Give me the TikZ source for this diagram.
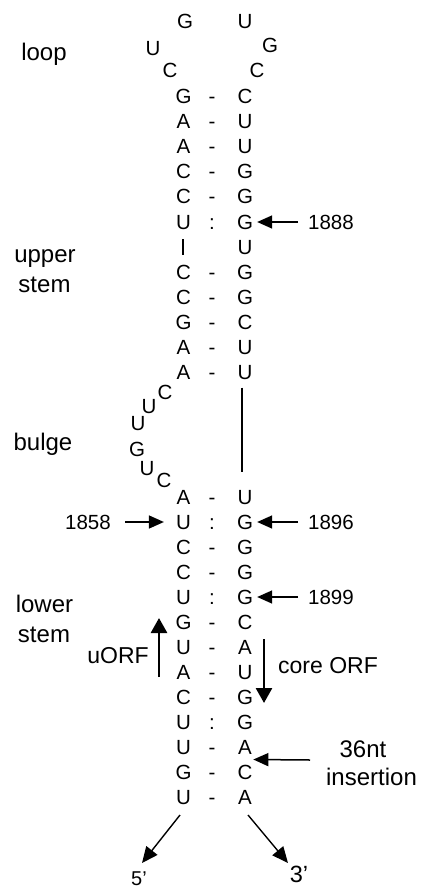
\documentclass[tikz,border=0pt]{standalone}
\usepackage{fontspec}
\setmainfont{Liberation Sans}
\usetikzlibrary{arrows.meta,calc}
\begin{document}
\begin{tikzpicture}[x=1pt,y=-1pt,
  nt/.style={inner sep=0pt, font=\fontsize{20.5}{22}\selectfont, text height=14.7pt, text depth=0pt},
  num/.style={inner sep=0pt, font=\fontsize{20.5}{22}\selectfont, text height=14.7pt, text depth=0pt},
  lab/.style={inner sep=0pt, anchor=base, font=\fontsize{24}{26}\selectfont},
  orf/.style={inner sep=0pt, anchor=base, font=\fontsize{23}{25}\selectfont},
  ptr/.style={-{Triangle[length=15pt,width=13pt]}, line width=1.5pt},
  orfarr/.style={-{Triangle[length=15pt,width=16pt]}, line width=2.7pt},
  endarr/.style={-{Triangle[length=16pt,width=14pt]}, line width=1.4pt},
  bar/.style={line width=2.8pt}]
\useasboundingbox (0,0) rectangle (420,893);
% loop
\node[nt] (lpG1) at (185,21.5) {G};
\node[nt] (lpU2) at (245,21.5) {U};
\node[nt] (lpU1) at (153,48.5) {U};
\node[nt] (lpG2) at (270,45.5) {G};
\node[nt] (lpC1) at (170,70) {C};
\node[nt] (lpC2) at (257,70) {C};
% stem pairs
\foreach \n/\y/\a/\s/\b in {1/96/G/-/C,2/121/A/-/U,3/146/A/-/U,4/171/C/-/G,5/196/C/-/G,6/222/U/:/G,
  8/272/C/-/G,9/297/C/-/G,10/322/G/-/C,11/347/A/-/U,12/372/A/-/U,
  13/497/A/-/U,14/522/U/:/G,15/547/C/-/G,16/572/C/-/G,17/597/U/:/G,18/622/G/-/C,19/647/U/-/A,
  20/672/A/-/U,21/697/C/-/G,22/722/U/:/G,23/747/U/-/A,24/772/G/-/C,25/797/U/-/A}{
  \node[nt] (l\n) at (183.5,\y) {\a};
  \node[nt] (m\n) at (212,\y) {\s};
  \node[nt] (r\n) at (245,\y) {\b};
}
\node[nt] (r7) at (245,247) {U};
\coordinate (b7t) at (183,239);
\coordinate (b7b) at (183,255);
\draw[line width=2.2pt] (b7t) -- (b7b);
% bulge
\node[nt] (bC1) at (165,392) {C};
\node[nt] (bU1) at (149,406) {U};
\node[nt] (bU2) at (138,423) {U};
\node[nt] (bG) at (137,449) {G};
\node[nt] (bU3) at (147,468) {U};
\node[nt] (bC2) at (164,480) {C};
\draw[bar] ($(r12.south)+(-3,8)$) -- ($(r13.north)+(-3,-17)$);
% left labels
\node[lab] (tloop) at (44,61) {loop};
\node[lab] (tupper) at (45,262) {upper};
\node[lab] (tstem1) at (44.5,292) {stem};
\node[lab] (tbulge) at (43,450) {bulge};
\node[lab] (tlower) at (44.5,612) {lower};
\node[lab] (tstem2) at (44,642) {stem};
% position numbers
\node[num] (n1888) at (331,222) {1888};
\node[num] (n1896) at (331,522) {1896};
\node[num] (n1899) at (331,597) {1899};
\node[num] (n1858) at (88,522) {1858};
\draw[ptr] ($(n1888.west)+(-10,0)$) -- ($(r6.east)+(4,0)$);
\draw[ptr] ($(n1896.west)+(-10,0)$) -- ($(r14.east)+(4,0)$);
\draw[ptr] ($(n1899.west)+(-10,0)$) -- ($(r17.east)+(4,0)$);
\draw[ptr] ($(n1858.east)+(14,0)$) -- ($(l14.west)+(-12,0)$);
% ORFs
\node[orf] (tuorf) at (118,663) {uORF};
\node[orf, anchor=base west] (tcore) at (278,673) {core ORF};
\coordinate (uorfTail) at (159,677);
\coordinate (uorfTip) at (159,618);
\draw[orfarr] (uorfTail) -- (uorfTip);
\coordinate (coreTail) at (264,639);
\coordinate (coreTip) at (264,703);
\draw[orfarr] (coreTail) -- (coreTip);
% insertion
\node[lab] (t36) at (363,757) {36nt};
\node[lab] (tins) at (371.5,785) {insertion};
\coordinate (insTail) at (310,760);
\draw[ptr] (insTail) -- ($($(r23.east)!0.5!(r24.east)$)+(1,0)$);
% ends
\node[inner sep=0pt, anchor=base, font=\fontsize{20}{22}\selectfont] (t5) at (139,885) {5’};
\node[inner sep=0pt, anchor=base, font=\fontsize{23.5}{25}\selectfont] (t3) at (299,882) {3’};
\coordinate (e5s) at (180,815);
\coordinate (e5e) at (142,863);
\coordinate (e3s) at (248,815);
\coordinate (e3e) at (288,863);
\draw[endarr] (e5s) -- (e5e);
\draw[endarr] (e3s) -- (e3e);
\end{tikzpicture}
\end{document}
